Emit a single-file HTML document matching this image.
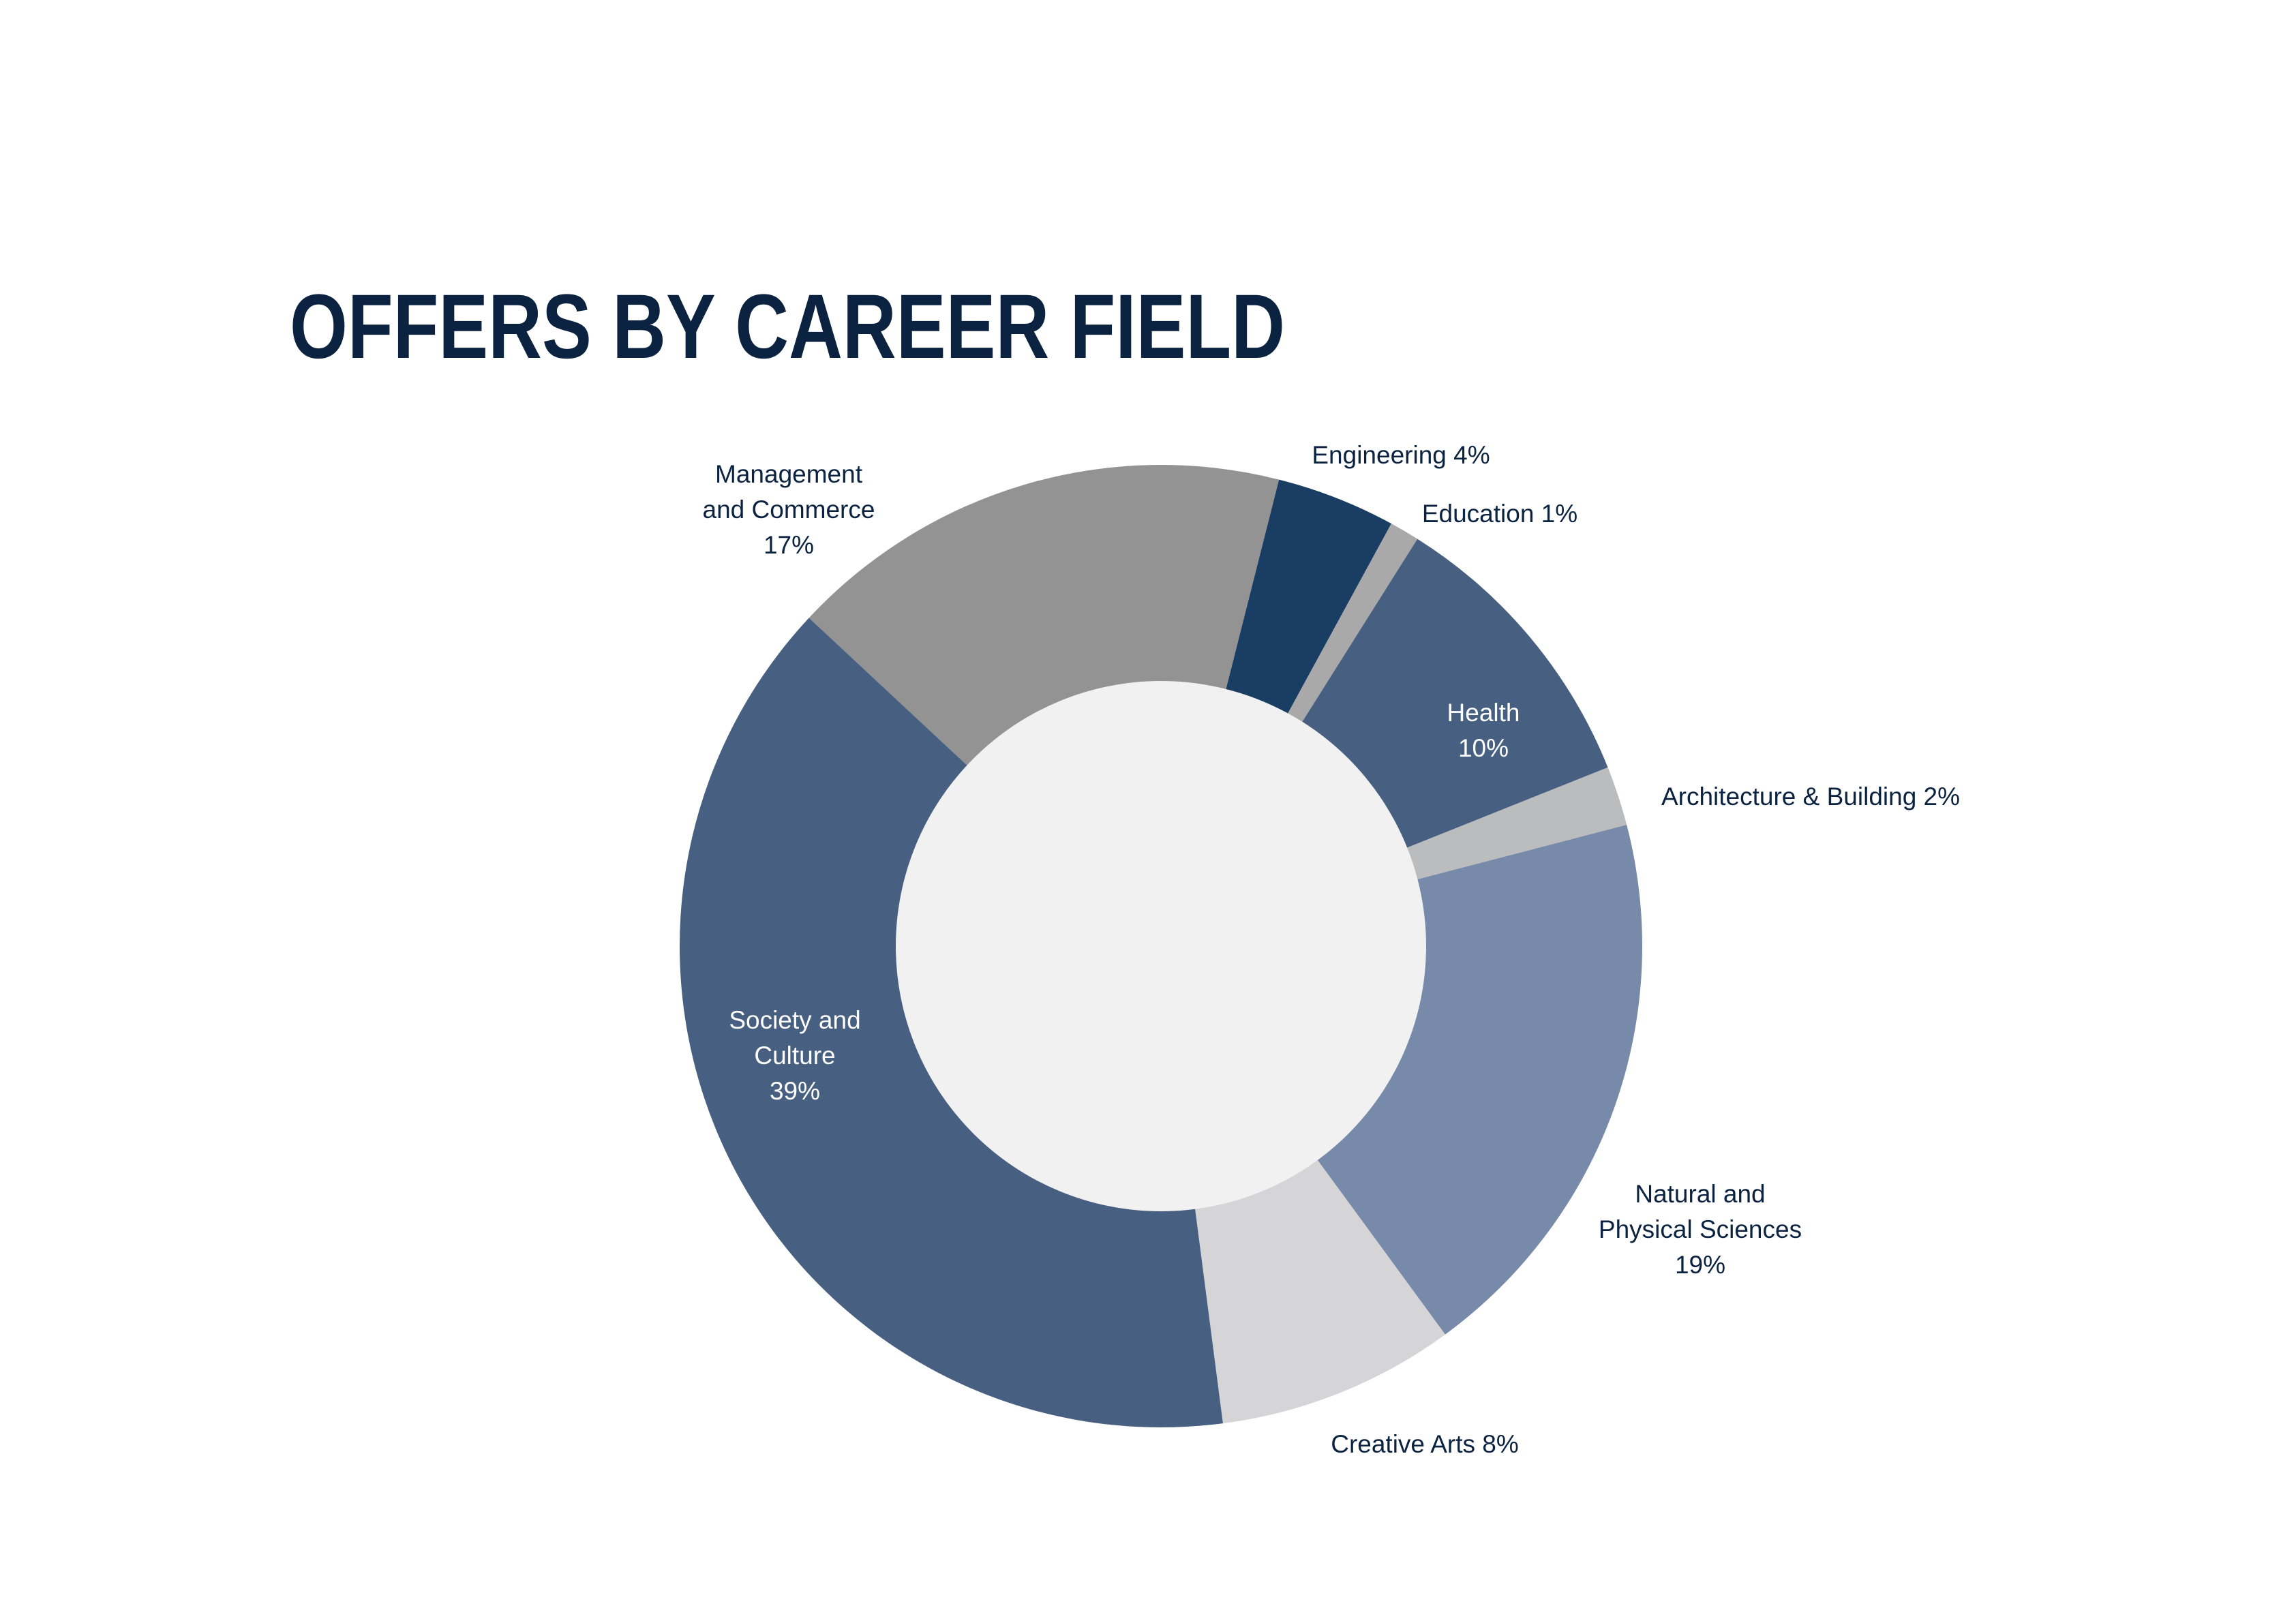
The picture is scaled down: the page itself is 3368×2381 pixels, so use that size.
<!DOCTYPE html>
<html><head><meta charset="utf-8"><style>
html,body{margin:0;padding:0;background:#fff;}
svg{display:block;}
text{font-family:"Liberation Sans",sans-serif;}
</style></head><body>
<svg id="chart" width="3368" height="2381" viewBox="0 0 3368 2381" xmlns="http://www.w3.org/2000/svg">
<rect width="3368" height="2381" fill="#ffffff"/>
<text x="425" y="525" font-size="134" font-weight="bold" fill="#0b2341" textLength="1460" lengthAdjust="spacingAndGlyphs">OFFERS BY CAREER FIELD</text>
<g id="slices"></g>
<circle cx="1703" cy="1388" r="389" fill="#f1f1f1"/>
<g id="labels"></g>
</svg>
<script>
const categories = ["Management and Commerce","Engineering","Education","Health","Architecture & Building","Natural and Physical Sciences","Creative Arts","Society and Culture"];
const values = [17,4,1,10,2,19,8,39];
const colors = ["#939393","#1a3d63","#a9a9a9","#475f80","#bbbcbe","#788aa9","#d5d5d7","#475f80"];
const labelLines = [["Management","and Commerce"],["Engineering"],["Education"],["Health"],["Architecture & Building"],["Natural and","Physical Sciences"],["Creative Arts"],["Society and","Culture"]];
const inlinePct = [false,true,true,false,true,false,true,false];
const labelPos = [[1157,708],[2055,680],[2200,766],[2176,1058],[2656,1181],[2494,1764],[2090,2131],[1166,1509]];
const labelWhite = [false,false,false,true,false,false,false,true];
const cx=1703, cy=1388, R=706, startDeg=313;
const NS="http://www.w3.org/2000/svg";
const total = values.reduce((a,b)=>a+b,0);
function pt(deg,r){const a=deg*Math.PI/180;return [cx+r*Math.sin(a),cy-r*Math.cos(a)];}
const sg=document.getElementById('slices'), lg=document.getElementById('labels');
let ang=startDeg;
values.forEach((v,i)=>{
  const sweep=v/total*360;
  const p0=pt(ang,R), p1=pt(ang+sweep,R);
  const path=document.createElementNS(NS,'path');
  path.setAttribute('d',`M${cx},${cy} L${p0[0]},${p0[1]} A${R},${R} 0 ${sweep>180?1:0} 1 ${p1[0]},${p1[1]} Z`);
  path.setAttribute('fill',colors[i]);
  
  
  sg.appendChild(path);
  ang+=sweep;
  const lines=labelLines[i].slice();
  if(inlinePct[i]) lines[lines.length-1]+=' '+v+'%'; else lines.push(v+'%');
  const t=document.createElementNS(NS,'text');
  
  
  t.setAttribute('text-anchor','middle');
  t.setAttribute('font-size','37');
  t.setAttribute('fill',labelWhite[i]?'#ffffff':'#0b2341');
  lines.forEach((ln,j)=>{
    const s=document.createElementNS(NS,'tspan');
    s.setAttribute('x',labelPos[i][0]);
    s.setAttribute('y',labelPos[i][1]+j*52);
    s.textContent=ln;
    t.appendChild(s);
  });
  lg.appendChild(t);
});
</script>
</body></html>
